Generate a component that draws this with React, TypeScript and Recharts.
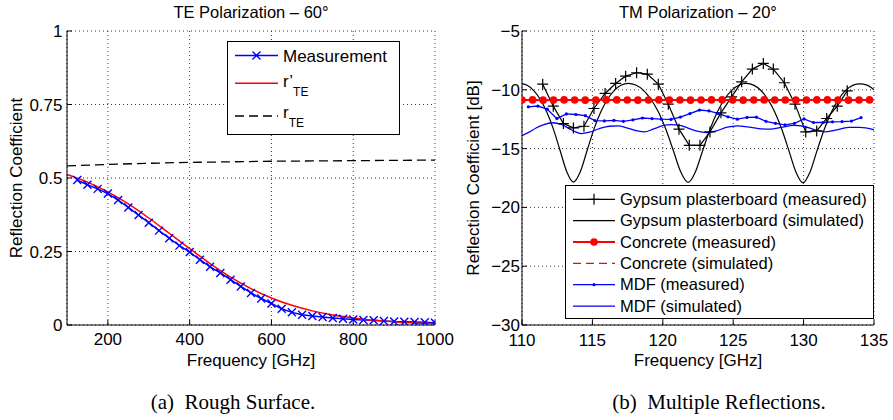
import React from 'react';
import { LineChart, Line, XAxis, YAxis, CartesianGrid, Legend } from 'recharts';

const FONT = '"Liberation Sans", Arial, Helvetica, sans-serif';
const SERIF = '"Liberation Serif", "Times New Roman", serif';

// ---------- (a) Rough surface, TE 60 deg ----------
const measFreqA = [
  125, 150, 175, 200, 225, 250, 275, 300, 325, 350, 375, 400, 425, 450, 475, 500, 525, 550,
  575, 600, 625, 650, 675, 700, 725, 750, 775, 800, 825, 850, 875, 900, 925, 950, 975, 1000,
];
const measValA = [
  0.493, 0.477, 0.463, 0.447, 0.425, 0.4, 0.374, 0.348, 0.321, 0.295, 0.27, 0.248, 0.222, 0.198,
  0.177, 0.154, 0.131, 0.109, 0.09, 0.073, 0.055, 0.043, 0.035, 0.031, 0.027, 0.024, 0.021, 0.019,
  0.017, 0.016, 0.014, 0.012, 0.011, 0.01, 0.009, 0.008,
];
const modelFreqA = [
  100, 150, 200, 250, 300, 350, 400, 450, 500, 550, 600, 650, 700, 750, 800, 850, 900, 950, 1000,
];
const rPrimeTeA = [
  0.512, 0.486, 0.453, 0.412, 0.364, 0.312, 0.26, 0.209, 0.163, 0.124, 0.092, 0.067, 0.048, 0.034,
  0.024, 0.016, 0.011, 0.007, 0.005,
];
const smoothFreqA = [100, 200, 300, 400, 500, 600, 700, 800, 900, 1000];
const rTeA = [0.541, 0.546, 0.55, 0.553, 0.555, 0.557, 0.558, 0.559, 0.56, 0.561];
const ticksXA = [200, 400, 600, 800, 1000];
const ticksYA = [0, 0.25, 0.5, 0.75, 1];

// ---------- (b) Multiple reflections, TM 20 deg ----------
const gypsumMeasFreq = [
  111.47, 112.22, 112.94, 113.65, 114.4, 115.11, 115.9, 116.65, 117.36, 118.14, 118.9, 119.68,
  120.39, 121.15, 121.88, 122.64, 123.35, 124.13, 124.89, 125.6, 126.36, 127.14, 127.85, 128.63,
  129.39, 130.15, 130.93, 131.64, 132.39, 133.1,
];
const gypsumMeasDb = [
  -9.52, -11.39, -12.87, -13.24, -13.1, -11.59, -10.31, -9.46, -8.84, -8.55, -8.67, -9.52, -11.22,
  -13.35, -14.72, -14.72, -13.58, -11.96, -10.6, -9.32, -8.24, -7.76, -8.24, -9.4, -11.22, -13.58,
  -13.5, -12.44, -11.39, -10.09,
];
const gypsumSimFreq = [
  110, 110.33, 110.8, 111.28, 111.75, 112.23, 112.7, 113.18, 113.65, 114.14, 114.63, 115.11, 115.6,
  116.09, 116.58, 117.06, 117.55, 118.08, 118.61, 119.14, 119.68, 120.21, 120.74, 121.27, 121.8,
  122.32, 122.84, 123.36, 123.88, 124.39, 124.91, 125.43, 125.95, 126.45, 126.95, 127.45, 127.95,
  128.45, 128.95, 129.45, 129.95, 130.46, 130.96, 131.47, 131.98, 132.48, 132.99, 133.49, 134.0,
  134.5, 135,
];
const gypsumSimDb = [
  -9.47, -9.59, -10.03, -10.78, -11.87, -13.34, -15.14, -16.97, -17.85, -16.97, -15.14, -13.34,
  -11.87, -10.78, -10.03, -9.59, -9.45, -9.59, -10.03, -10.78, -11.87, -13.34, -15.14, -16.97,
  -17.88, -16.97, -15.14, -13.34, -11.87, -10.78, -10.03, -9.59, -9.46, -9.6, -10.04, -10.79,
  -11.88, -13.35, -15.15, -16.98, -17.9, -16.98, -15.15, -13.35, -11.88, -10.8, -10.05, -9.62,
  -9.5, -9.6, -10.0,
];
const concreteFreq = [
  110, 110.75, 111.5, 112.24, 112.99, 113.74, 114.49, 115.24, 115.98, 116.73, 117.48, 118.23,
  118.98, 119.72, 120.47, 121.22, 121.97, 122.72, 123.46, 124.21, 124.96, 125.71, 126.46, 127.2,
  127.95, 128.7, 129.45, 130.2, 130.94, 131.69, 132.44, 133.19, 133.94, 134.68,
];
const concreteMeasDb = [
  -10.87, -10.86, -10.88, -10.87, -10.86, -10.87, -10.88, -10.87, -10.86, -10.86, -10.87, -10.88,
  -10.87, -10.86, -10.87, -10.87, -10.88, -10.87, -10.86, -10.86, -10.87, -10.88, -10.87, -10.86,
  -10.87, -10.87, -10.88, -10.87, -10.86, -10.86, -10.87, -10.88, -10.87, -10.86,
];
const concreteSimFreq = [110, 115, 120, 125, 130, 135];
const concreteSimDb = [-10.88, -10.88, -10.87, -10.87, -10.86, -10.86];
const mdfMeasFreq = [
  110.45, 111.13, 111.8, 112.48, 113.15, 113.83, 114.5, 115.18, 115.85, 116.53, 117.2, 117.88,
  118.55, 119.23, 119.9, 120.58, 121.25, 121.93, 122.6, 123.28, 123.95, 124.63, 125.3, 125.98,
  126.65, 127.33, 128.0, 128.68, 129.35, 130.03, 130.7, 131.38, 132.05, 132.73, 133.4, 134.08,
];
const mdfMeasDb = [
  -11.45, -11.38, -11.65, -12.45, -12.05, -12.1, -12.2, -12.62, -12.65, -12.6, -12.68, -12.55,
  -12.4, -12.45, -12.5, -12.52, -12.32, -12.02, -11.72, -11.8, -12.02, -12.3, -12.5, -12.35, -12.33,
  -12.68, -12.85, -12.98, -12.85, -12.48, -12.78, -12.78, -12.72, -12.7, -12.66, -12.36,
];
const mdfSimFreq = [
  110, 110.5, 111, 111.5, 112.2, 112.8, 113.5, 114.2, 114.8, 115.5, 116.2, 116.8, 117.5, 118.2,
  118.7, 119.3, 120, 120.6, 121.3, 122, 122.6, 123.2, 123.8, 124.5, 125.3, 126, 126.8, 127.6, 128.4,
  129.3, 130, 130.8, 131.5, 132.2, 133.2, 134, 135,
];
const mdfSimDb = [
  -13.9, -13.6, -13.25, -12.98, -12.8, -12.95, -13.4, -13.72, -13.6, -13.3, -13.1, -13.07, -13.25,
  -13.5, -13.58, -13.35, -13.05, -12.96, -13.05, -13.35, -13.55, -13.64, -13.5, -13.2, -13.07,
  -13.15, -13.3, -13.35, -13.2, -13.02, -13.1, -13.4, -13.58, -13.45, -13.2, -13.2, -13.4,
];
const ticksXB = [110, 115, 120, 125, 130, 135];
const ticksYB = [-30, -25, -20, -15, -10, -5];

const pairs = (xs: number[], ys: number[]) => xs.map((f, i) => ({ f, v: ys[i] }));

const BLUE = '#0000ff';
const RED = '#ff0000';

const crossDot = (props: any) => {
  const { cx, cy, index } = props;
  return (
    <path
      key={`x-${index}`}
      d={`M${cx - 4},${cy - 4}L${cx + 4},${cy + 4}M${cx - 4},${cy + 4}L${cx + 4},${cy - 4}`}
      stroke={BLUE}
      strokeWidth={1.4}
      fill="none"
    />
  );
};

const plusDot = (props: any) => {
  const { cx, cy, index } = props;
  return (
    <path
      key={`p-${index}`}
      d={`M${cx - 5.5},${cy}H${cx + 5.5}M${cx},${cy - 5.5}V${cy + 5.5}`}
      stroke="#000"
      strokeWidth={1.2}
      fill="none"
    />
  );
};

const tickStyle = { fill: '#000', fontSize: 17, fontFamily: FONT };
const axisBlack = { stroke: '#000', strokeWidth: 1 };
const minus = (v: number) => String(v).replace('-', '\u2212');

function LegendA() {
  return (
    <svg width={173} height={94} style={{ display: 'block' }}>
      <rect x={0.5} y={0.5} width={172} height={93} fill="#fff" stroke="#000" />
      <line x1={8} x2={51} y1={14.5} y2={14.5} stroke={BLUE} strokeWidth={1.5} />
      <path d="M25.5,10.5L33.5,18.5M25.5,18.5L33.5,10.5" stroke={BLUE} strokeWidth={1.4} />
      <text x={56} y={21} fontSize={17} fontFamily={FONT} fill="#000">Measurement</text>
      <line x1={8} x2={51} y1={42.3} y2={42.3} stroke={RED} strokeWidth={1.5} />
      <text x={56} y={45.7} fontSize={17} fontFamily={FONT} fill="#000">
        r’<tspan fontSize={12} dy={9}>TE</tspan>
      </text>
      <line x1={8} x2={51} y1={75} y2={75} stroke="#000" strokeWidth={1.3} strokeDasharray="9 5" />
      <text x={56} y={77.3} fontSize={17} fontFamily={FONT} fill="#000">
        r<tspan fontSize={12} dy={9}>TE</tspan>
      </text>
    </svg>
  );
}

const legendRowsB = [
  { label: 'Gypsum plasterboard (measured)', color: '#000', dash: undefined, marker: 'plus', width: 1.2 },
  { label: 'Gypsum plasterboard (simulated)', color: '#000', dash: undefined, marker: 'none', width: 1.2 },
  { label: 'Concrete (measured)', color: RED, dash: undefined, marker: 'dot', width: 2 },
  { label: 'Concrete (simulated)', color: RED, dash: '8 5', marker: 'none', width: 1.3 },
  { label: 'MDF (measured)', color: BLUE, dash: undefined, marker: 'small', width: 1.3 },
  { label: 'MDF (simulated)', color: BLUE, dash: undefined, marker: 'none', width: 1.3 },
];

function LegendB() {
  return (
    <svg width={309} height={134} style={{ display: 'block' }}>
      <rect x={0.5} y={0.5} width={308} height={133} fill="#fff" stroke="#000" />
      {legendRowsB.map((r, i) => {
        const y = 14.3 + i * 21.35;
        return (
          <g key={r.label}>
            <line x1={8} x2={50} y1={y} y2={y} stroke={r.color} strokeWidth={r.width} strokeDasharray={r.dash} />
            {r.marker === 'plus' && (
              <path d={`M23.5,${y}H34.5M29,${y - 5.5}V${y + 5.5}`} stroke="#000" strokeWidth={1.2} />
            )}
            {r.marker === 'dot' && <circle cx={29} cy={y} r={3.8} fill={RED} />}
            {r.marker === 'small' && <circle cx={29} cy={y} r={1.6} fill={BLUE} />}
            <text x={55} y={y + 5.5} fontSize={16.5} fontFamily={FONT} fill="#000">{r.label}</text>
          </g>
        );
      })}
    </svg>
  );
}

function RoughSurfaceChart() {
  return (
    <LineChart width={462} height={380} margin={{ top: 31, right: 27, bottom: 25, left: 7 }}>
      <CartesianGrid stroke="#333" strokeDasharray="1 3" />
      <XAxis
        type="number"
        dataKey="f"
        domain={[100, 1000]}
        ticks={ticksXA}
        allowDataOverflow
        height={30}
        tickSize={-5}
        tickMargin={13}
        tick={tickStyle}
        axisLine={axisBlack}
        tickLine={axisBlack}
        label={{ value: 'Frequency [GHz]', position: 'insideBottom', offset: -11, fill: '#000', fontSize: 17, fontFamily: FONT }}
      />
      <XAxis
        xAxisId="top"
        orientation="top"
        type="number"
        domain={[100, 1000]}
        ticks={ticksXA}
        allowDataOverflow
        height={0}
        tickSize={-5}
        tickFormatter={() => ''}
        axisLine={axisBlack}
        tickLine={axisBlack}
      />
      <YAxis
        type="number"
        domain={[0, 1]}
        ticks={ticksYA}
        allowDataOverflow
        width={60}
        tickSize={-5}
        tickMargin={9.5}
        tick={tickStyle}
        axisLine={axisBlack}
        tickLine={axisBlack}
        label={{ value: 'Reflection Coefficient', angle: -90, position: 'insideLeft', offset: 8.5, fill: '#000', fontSize: 17, fontFamily: FONT, style: { textAnchor: 'middle' } }}
      />
      <YAxis
        yAxisId="right"
        orientation="right"
        type="number"
        domain={[0, 1]}
        ticks={ticksYA}
        allowDataOverflow
        width={0}
        tickSize={-5}
        tickFormatter={() => ''}
        axisLine={axisBlack}
        tickLine={axisBlack}
      />
      <Line data={pairs(measFreqA, measValA)} dataKey="v" name="Measurement" type="linear" stroke={BLUE} strokeWidth={1.5} dot={crossDot} activeDot={false} isAnimationActive={false} />
      <Line data={pairs(modelFreqA, rPrimeTeA)} dataKey="v" name="r'TE" type="monotone" stroke={RED} strokeWidth={1.5} dot={false} activeDot={false} isAnimationActive={false} />
      <Line data={pairs(smoothFreqA, rTeA)} dataKey="v" name="rTE" type="monotone" stroke="#000" strokeWidth={1.3} strokeDasharray="9 5" dot={false} activeDot={false} isAnimationActive={false} />
      <Legend
        layout="horizontal"
        verticalAlign="middle"
        align="center"
        content={() => <LegendA />}
        wrapperStyle={{ left: 227, top: 41, width: 173, height: 94 }}
      />
    </LineChart>
  );
}

function MultipleReflectionsChart() {
  return (
    <LineChart width={443} height={380} margin={{ top: 31, right: 19, bottom: 25, left: 12 }}>
      <CartesianGrid stroke="#333" strokeDasharray="1 3" />
      <XAxis
        type="number"
        dataKey="f"
        domain={[110, 135]}
        ticks={ticksXB}
        allowDataOverflow
        height={30}
        tickSize={-5}
        tickMargin={14}
        tick={tickStyle}
        axisLine={axisBlack}
        tickLine={axisBlack}
        label={{ value: 'Frequency [GHz]', position: 'insideBottom', offset: -11, fill: '#000', fontSize: 17, fontFamily: FONT }}
      />
      <XAxis
        xAxisId="top"
        orientation="top"
        type="number"
        domain={[110, 135]}
        ticks={ticksXB}
        allowDataOverflow
        height={0}
        tickSize={-5}
        tickFormatter={() => ''}
        axisLine={axisBlack}
        tickLine={axisBlack}
      />
      <YAxis
        type="number"
        domain={[-30, -5]}
        ticks={ticksYB}
        allowDataOverflow
        width={60}
        tickSize={-5}
        tickMargin={7}
        tick={tickStyle}
        tickFormatter={minus}
        axisLine={axisBlack}
        tickLine={axisBlack}
        label={{ value: 'Reflection Coefficient [dB]', angle: -90, position: 'insideLeft', offset: 11, fill: '#000', fontSize: 17, fontFamily: FONT, style: { textAnchor: 'middle' } }}
      />
      <YAxis
        yAxisId="right"
        orientation="right"
        type="number"
        domain={[-30, -5]}
        ticks={ticksYB}
        allowDataOverflow
        width={0}
        tickSize={-5}
        tickFormatter={() => ''}
        axisLine={axisBlack}
        tickLine={axisBlack}
      />
      <Line data={pairs(gypsumMeasFreq, gypsumMeasDb)} dataKey="v" name="Gypsum plasterboard (measured)" type="linear" stroke="#000" strokeWidth={1.2} dot={plusDot} activeDot={false} isAnimationActive={false} />
      <Line data={pairs(gypsumSimFreq, gypsumSimDb)} dataKey="v" name="Gypsum plasterboard (simulated)" type="monotone" stroke="#000" strokeWidth={1.2} dot={false} activeDot={false} isAnimationActive={false} />
      <Line data={pairs(concreteFreq, concreteMeasDb)} dataKey="v" name="Concrete (measured)" type="linear" stroke={RED} strokeWidth={2} dot={{ r: 3.8, fill: RED, stroke: 'none' }} activeDot={false} isAnimationActive={false} />
      <Line data={pairs(concreteSimFreq, concreteSimDb)} dataKey="v" name="Concrete (simulated)" type="linear" stroke={RED} strokeWidth={1.3} strokeDasharray="8 5" dot={false} activeDot={false} isAnimationActive={false} />
      <Line data={pairs(mdfMeasFreq, mdfMeasDb)} dataKey="v" name="MDF (measured)" type="linear" stroke={BLUE} strokeWidth={1.3} dot={{ r: 1.6, fill: BLUE, stroke: 'none' }} activeDot={false} isAnimationActive={false} />
      <Line data={pairs(mdfSimFreq, mdfSimDb)} dataKey="v" name="MDF (simulated)" type="monotone" stroke={BLUE} strokeWidth={1.3} dot={false} activeDot={false} isAnimationActive={false} />
      <Legend
        layout="horizontal"
        verticalAlign="middle"
        align="center"
        content={() => <LegendB />}
        wrapperStyle={{ left: 115, top: 185, width: 309, height: 134 }}
      />
    </LineChart>
  );
}

const titleStyle: React.CSSProperties = {
  position: 'absolute',
  top: 2,
  width: 300,
  textAlign: 'center',
  fontSize: 16.5,
  lineHeight: '20px',
  fontFamily: FONT,
  whiteSpace: 'nowrap',
};

const captionStyle: React.CSSProperties = {
  position: 'absolute',
  top: 390,
  width: 300,
  textAlign: 'center',
  fontSize: 21,
  lineHeight: '24px',
  fontFamily: SERIF,
  whiteSpace: 'nowrap',
};

export default function App() {
  return (
    <div style={{ position: 'absolute', left: 0, top: 0, width: 893, height: 420, background: '#fff', color: '#000', fontFamily: FONT, overflow: 'hidden' }}>
      <div style={{ position: 'absolute', left: 0, top: 0 }}>
        <RoughSurfaceChart />
      </div>
      <div style={{ position: 'absolute', left: 450, top: 0 }}>
        <MultipleReflectionsChart />
      </div>
      <div style={{ ...titleStyle, left: 251 - 150 }}>TE Polarization – 60°</div>
      <div style={{ ...titleStyle, left: 698 - 150 }}>TM Polarization – 20°</div>
      <div style={{ ...captionStyle, left: 233 - 150 }}>(a)&nbsp;&nbsp;Rough Surface.</div>
      <div style={{ ...captionStyle, left: 719 - 150 }}>(b)&nbsp;&nbsp;Multiple Reflections.</div>
    </div>
  );
}
